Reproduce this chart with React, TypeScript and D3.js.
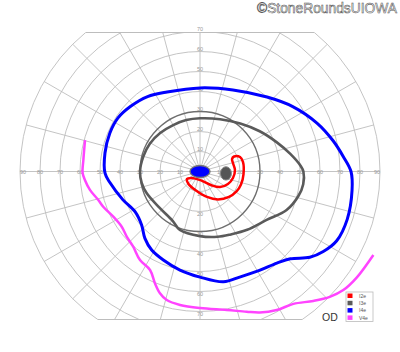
import React from "react";
import * as d3 from "d3";

type P = [number, number]; // [meridian deg (ccw from right), eccentricity deg]

const RINGS = [10, 20, 30, 40, 50, 60, 70, 80, 90];
const EMPHASIZED_RING = 30;
const MERIDIANS = [0, 15, 30, 45, 60, 75, 90, 105, 120, 135, 150, 165, 180, 195, 210, 225, 240, 255, 270, 285, 300, 315, 330, 345];
const H_LABELS = [10, 20, 30, 40, 50, 60, 70, 80, 90];
const V_LABELS = [10, 20, 30, 40, 50, 60, 70];
const SUPERIOR_LIMIT = 69.5;
const INFERIOR_LIMIT = 74;

const LEGEND_NAMES = ["I2e", "I3e", "I4e", "V4e"];
const LEGEND_COLORS = ["#ff0000", "#5a5a5a", "#0000ff", "#ff44ff"];

const I2E: P[] = [
  [23.8, 18.6], [19.9, 21.3], [12.5, 22], [-3.3, 21.8], [-17.6, 21.5], [-28.7, 20.8],
  [-41.3, 19.3], [-57.3, 16.6], [-74.6, 13.2], [-101.9, 9.7], [-132.6, 8.5], [-150, 7.5],
  [-142.6, 5.35], [-83.7, 4.5], [-49.4, 9.2], [-37.8, 12.7], [-24.1, 15.3], [-11.1, 16.8],
  [2.5, 17.5], [14.4, 17], [21.3, 17.2],
];

const I3E: P[] = [
  [0, 51.7], [3, 50.5], [11, 46], [21, 41], [34, 36], [50, 31.3], [69, 28], [90, 26.6],
  [105, 26.6], [120, 26.8], [136, 27.7], [151, 28.7], [165, 29.3], [180, 30], [191, 29.7],
  [202, 28.8], [221, 27.2], [241, 28.2], [251, 30.9], [270, 32.3], [285, 33.8], [296, 35],
  [309, 37.5], [324, 41.2], [336, 47.4], [346, 50.7], [353, 52],
];

const I4E: P[] = [
  [0, 75.5], [6, 72], [13, 68.3], [22.5, 63.3], [35, 56.6], [48, 50.1], [68, 44], [90, 41.8],
  [112.5, 43], [125, 45.7], [137, 47.6], [147, 49], [157, 49], [169, 48.4], [181, 47.5],
  [187, 45.4], [200, 41.1], [212, 38.2], [222.5, 39.6], [230.5, 43.3], [238.4, 46.1],
  [247.5, 47.9], [258.5, 50.3], [270, 52.8], [282, 56.4], [291, 56.4], [301, 57.7],
  [310, 59.8], [316, 62.8], [322, 69.7], [327, 73.5], [333, 76.6], [342, 77.4], [353, 76.6],
];

const V4E: P[] = [
  [164.7, 59.6], [174.4, 58.6], [180.7, 58.7], [184.2, 57.7], [189.5, 55.8], [195.7, 52.8],
  [200, 51.5], [207.5, 48.9], [215.2, 47.9], [221.6, 49], [228.4, 50.3], [235.9, 53.5],
  [243.1, 55.2], [248.1, 60.3], [251.8, 64.1], [255.5, 66.4], [261.5, 67.5], [270, 68.3],
  [280.9, 70.5], [288.4, 73.9], [293, 76.6], [299, 79.2], [305.2, 81], [311.2, 86],
  [316, 90.2], [320.4, 93], [325.9, 94.6], [334.3, 96.2],
];

// central filled isopter and blind spot: [meridian, ecc, width deg, height deg]
const CENTRAL_SPOT = [0, 0, 10, 6];
const BLIND_SPOT = [-4.2, 13, 5.5, 6.7];

const CX = 200;
const CY = 171.5;

export default function App() {
  const r = d3.scaleLinear().domain([0, 90]).range([0, 180]);
  const rad = (a: number) => (a * Math.PI) / 180;
  const xy = (m: number, e: number): P => [r(e) * Math.cos(rad(m)), -r(e) * Math.sin(rad(m))];

  const closed = d3
    .lineRadial<P>()
    .angle((d) => rad(90 - d[0]))
    .radius((d) => r(d[1]))
    .curve(d3.curveCatmullRomClosed.alpha(0.5));
  const open = d3
    .lineRadial<P>()
    .angle((d) => rad(90 - d[0]))
    .radius((d) => r(d[1]))
    .curve(d3.curveCatmullRom.alpha(0.5));

  const R = r(90);
  const yTop = -r(SUPERIOR_LIMIT);
  const yBot = r(INFERIOR_LIMIT);
  const halfTop = Math.sqrt(R * R - yTop * yTop);
  const halfBot = Math.sqrt(R * R - yBot * yBot);

  const [cm, ce, cw, ch] = CENTRAL_SPOT;
  const [bm, be, bw, bh] = BLIND_SPOT;
  const cxy = xy(cm, ce);
  const bxy = xy(bm, be);

  const gridColor = "#bdbdbd";
  const labelColor = "#9a9a9a";

  return (
    <svg width={400} height={352} style={{ position: "absolute", left: 0, top: 0, background: "#fff" }}
      fontFamily="'Liberation Sans', Arial, sans-serif">
      <defs>
        <clipPath id="field">
          <rect x={-R - 2} y={yTop} width={2 * R + 4} height={yBot - yTop} />
        </clipPath>
      </defs>
      <text x={397} y={13} textAnchor="end" fontSize={13.8} fill="#ffffff" stroke="#555" strokeWidth={0.55}>
        ©StoneRoundsUIOWA
      </text>
      <g transform={`translate(${CX},${CY})`}>
        <g clipPath="url(#field)">
          {MERIDIANS.map((m) => {
            const [x, y] = xy(m, 90);
            return <line key={m} x1={0} y1={0} x2={x} y2={y} stroke={gridColor} strokeWidth={0.9} />;
          })}
          {RINGS.map((v) => (
            <circle key={v} r={r(v)} fill="none"
              stroke={v === EMPHASIZED_RING ? "#6e6e6e" : gridColor}
              strokeWidth={v === EMPHASIZED_RING ? 1.4 : 0.9} />
          ))}
        </g>
        <line x1={-halfTop} x2={halfTop} y1={yTop} y2={yTop} stroke={gridColor} strokeWidth={1} />
        <line x1={-halfBot} x2={halfBot} y1={yBot} y2={yBot} stroke={gridColor} strokeWidth={1} />
        {H_LABELS.map((v) => (
          <g key={"h" + v} fontSize={5.5} fill={labelColor} textAnchor="middle">
            <text x={-r(v) + (v === 90 ? 3 : 0)} y={2}>{v}</text>
            <text x={r(v) - (v === 90 ? 3 : 0)} y={2}>{v}</text>
          </g>
        ))}
        {V_LABELS.map((v) => (
          <g key={"v" + v} fontSize={5.5} fill={labelColor} textAnchor="middle">
            <text x={0} y={-r(v) - 0.5}>{v}</text>
            <text x={0} y={r(v) + 4.5}>{v}</text>
          </g>
        ))}
        <path d={closed(I3E) ?? ""} fill="none" stroke={LEGEND_COLORS[1]} strokeWidth={2.6} />
        <path d={closed(I4E) ?? ""} fill="none" stroke={LEGEND_COLORS[2]} strokeWidth={3} />
        <path d={open(V4E) ?? ""} fill="none" stroke={LEGEND_COLORS[3]} strokeWidth={2.5} />
        <path d={closed(I2E) ?? ""} fill="none" stroke={LEGEND_COLORS[0]} strokeWidth={2.5} />
        <ellipse cx={bxy[0]} cy={bxy[1]} rx={r(bw / 2)} ry={r(bh / 2)} fill="#555" stroke="#888" strokeWidth={1} />
        <ellipse cx={cxy[0]} cy={cxy[1]} rx={r(cw / 2)} ry={r(ch / 2)} fill="#0000ff" stroke="#777" strokeWidth={1.4} />
      </g>
      <text x={322} y={320.5} fontSize={10.5} fill="#333">OD</text>
      <g>
        <rect x={346} y={292} width={27} height={29.5} fill="#fff" stroke="#bbb" strokeWidth={0.8} />
        {LEGEND_NAMES.map((n, i) => (
          <g key={n}>
            <rect x={347.5} y={293.5 + i * 7.3} width={5} height={4.5} fill={LEGEND_COLORS[i]} />
            <text x={359} y={297.6 + i * 7.3} fontSize={5} fill="#555">{n}</text>
          </g>
        ))}
      </g>
    </svg>
  );
}
